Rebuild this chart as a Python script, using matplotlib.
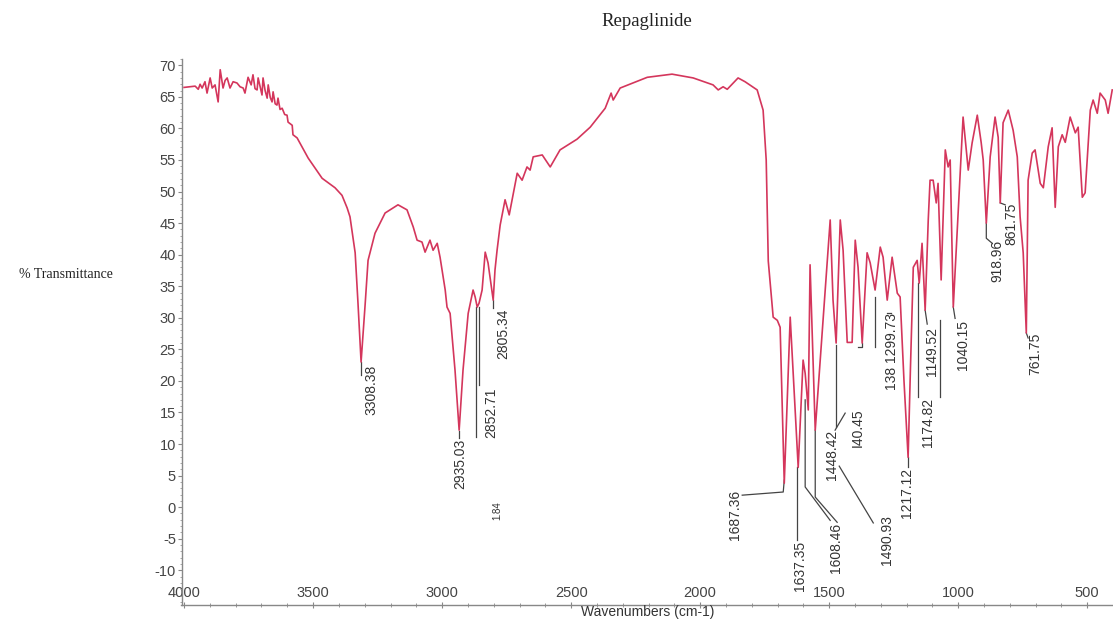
import matplotlib
matplotlib.use("Agg")
import matplotlib.pyplot as plt
from matplotlib.ticker import MultipleLocator

# ---------------- data ----------------
wavenumber = [
    4000, 3957, 3945, 3938, 3930, 3919, 3911, 3899, 3891, 3880, 3868, 3860, 3849,
    3841, 3833, 3822, 3810, 3795, 3783, 3771, 3764, 3752, 3740, 3733, 3725, 3717,
    3713, 3705, 3698, 3694, 3686, 3678, 3674, 3666, 3659, 3655, 3647, 3640, 3636,
    3628, 3620, 3610, 3601, 3597, 3581, 3578, 3562, 3519, 3465,
    3415, 3388, 3368, 3357, 3337, 3326, 3314, 3298, 3287, 3260, 3221, 3171, 3136,
    3112, 3097, 3078, 3066, 3047, 3035, 3019, 3008, 2988, 2981, 2969, 2950, 2934,
    2919, 2899, 2880, 2872, 2864, 2857, 2845, 2833, 2822, 2802, 2795, 2787, 2775,
    2756, 2740, 2709, 2690, 2671, 2659, 2647, 2612, 2581, 2543, 2477, 2426, 2368,
    2345, 2337, 2310, 2205, 2109, 2027, 1950, 1930, 1911, 1895, 1853, 1826, 1779,
    1756, 1744, 1736, 1717, 1701, 1690, 1674, 1651, 1620, 1601, 1593, 1581, 1574,
    1554, 1496, 1485, 1473, 1457, 1446, 1430, 1411, 1399, 1388, 1372, 1353, 1341,
    1322, 1302, 1291, 1275, 1256, 1236, 1225, 1210, 1194, 1185, 1174, 1159, 1151,
    1140, 1128, 1116, 1109, 1097, 1085, 1078, 1066, 1050, 1039, 1031, 1019, 1000,
    981, 961, 946, 926, 911, 903, 891, 876, 857, 845, 837, 826, 806, 787, 771,
    760, 748, 736, 729, 713, 702, 682, 670, 651, 636, 624, 612, 597, 585, 566,
    546, 535, 519, 508, 488, 477, 461, 450, 430, 419, 403,
]
transmittance = [
    66.5, 66.7, 66.2, 67.0, 66.4, 67.4, 65.6, 68.0, 66.4, 66.9, 64.2, 69.3, 66.4,
    67.6, 68.0, 66.4, 67.4, 67.2, 66.6, 66.4, 65.6, 68.1, 66.9, 68.5, 66.3, 66.1,
    68.0, 66.6, 65.3, 68.0, 66.0, 64.8, 66.9, 64.9, 64.2, 65.8, 63.9, 63.7, 64.8,
    63.0, 63.2, 62.2, 62.1, 61.0, 60.5, 59.0, 58.5, 55.3, 52.1,
    50.6, 49.4, 47.4, 46.0, 40.3, 32.3, 23.0, 32.3, 39.1, 43.4, 46.6, 47.9, 47.1,
    44.4, 42.3, 42.0, 40.4, 42.3, 40.7, 41.8, 39.6, 34.4, 31.7, 30.7, 21.7, 12.2,
    21.7, 30.7, 34.4, 33.3, 31.7, 32.3, 34.4, 40.4, 38.7, 32.8, 37.6, 40.7, 44.7,
    48.7, 46.3, 52.9, 51.8, 53.9, 53.4, 55.5, 55.8, 53.9, 56.6, 58.3, 60.2, 63.2,
    65.6, 64.5, 66.4, 68.1, 68.6, 68.0, 66.9, 66.1, 66.6, 66.2, 68.0, 67.4, 66.1,
    62.9, 55.0, 39.0, 30.1, 29.6, 28.5, 3.8, 30.1, 6.3, 23.3, 21.2, 15.4, 38.4,
    12.2, 45.5, 32.8, 26.0, 45.5, 40.7, 26.1, 26.1, 42.3, 38.0, 26.0, 40.3, 38.7,
    34.4, 41.2, 39.6, 32.8, 39.6, 33.9, 33.3, 20.0, 7.9, 22.0, 38.0, 39.1, 35.5,
    41.8, 31.2, 45.5, 51.8, 51.8, 48.2, 51.3, 36.0, 56.6, 53.9, 55.0, 31.7, 46.6,
    61.8, 53.4, 57.7, 62.1, 57.8, 55.0, 45.0, 55.5, 61.8, 58.6, 48.2, 60.9, 62.9, 59.7, 55.5,
    46.0, 40.3, 27.6, 51.8, 56.1, 56.6, 51.3, 50.6, 57.1, 60.1, 47.5, 57.1, 59.0, 57.8, 61.8,
    59.3, 60.2, 49.1, 49.8, 62.9, 64.5, 62.4, 65.6, 64.5, 62.4, 66.1,
]

x_ticks = [4000, 3500, 3000, 2500, 2000, 1500, 1000, 500]
y_ticks = list(range(-10, 71, 5))

# peak labels as printed on the chart (1381/1299.73 are printed run together)
peak_labels = ["3308.38", "2935.03", "2852.71", "2805.34", "1.84",
               "1687.36", "1637.35", "1608.46", "1490.93", "1448.42", "I40.45",
               "138 1299.73", "1217.12", "1174.82", "1149.52", "1040.15",
               "918.96", "861.75", "761.75"]

# ---------------- layout / style ----------------
label_pos = [(3275, 22.5), (2930, 10.9), (2810, 19.0), (2764, 31.5), (2787, 0.9),
             (1864, 2.7), (1612, -5.4), (1473, -2.5), (1275, -1.3), (1488, 12.2),
             (1391, 15.7), (1256, 30.7), (1198, 6.2), (1116, 17.3),
             (1101, 28.5), (981, 29.6), (849, 42.3), (795, 48.2), (702, 27.6)]
label_size = [10] * len(peak_labels)
label_size[4] = 7

leaders = [
    [(3314, 23.0), (3314, 20.9)],
    [(2934, 12.0), (2934, 11.0)],
    [(2868, 31.7), (2868, 11.1)],
    [(2857, 31.7), (2857, 19.3)],
    [(2802, 32.8), (2802, 31.5)],
    [(1674, 4.3), (1678, 2.4), (1837, 1.9)],
    [(1624, 6.3), (1624, -5.2)],
    [(1593, 17.0), (1593, 3.2), (1496, -2.1)],
    [(1554, 12.2), (1554, 1.6), (1469, -2.4)],
    [(1461, 6.5), (1329, -2.5)],
    [(1473, 25.7), (1473, 12.7)],
    [(1477, 12.2), (1438, 14.9)],
    [(1372, 26.0), (1372, 25.4), (1388, 25.4)],
    [(1322, 33.3), (1322, 25.4)],
    [(1275, 30.7), (1262, 30.7)],
    [(1194, 7.9), (1194, 6.4)],
    [(1155, 35.5), (1155, 17.4)],
    [(1070, 29.6), (1070, 17.4)],
    [(1128, 31.2), (1120, 29.0)],
    [(1019, 31.7), (1012, 29.9)],
    [(891, 45.0), (891, 42.6), (868, 41.8)],
    [(837, 48.2), (818, 47.9)],
    [(736, 27.6), (729, 26.8)],
]

line_color = "#d4365c"
grey = "#444444"

plt.rcParams["font.family"] = ["Liberation Sans", "DejaVu Sans"]
plt.rcParams["axes.unicode_minus"] = False

W, H = 1113, 622
fig = plt.figure(figsize=(W / 100, H / 100), dpi=100)
ax = fig.add_axes([181.5 / W, 17 / H, 1 - 181.5 / W, (605 - 59) / H])

ax.plot(wavenumber, transmittance, color=line_color, lw=1.2, zorder=3)

for pts in leaders:
    xs = [p[0] for p in pts]
    ys = [p[1] for p in pts]
    ax.plot(xs, ys, color=grey, lw=0.9, zorder=2)

for txt, (lx, ly), fs in zip(peak_labels, label_pos, label_size):
    ax.text(lx, ly, txt, rotation=90, ha="center", va="top",
            fontsize=fs, color="#333333", zorder=4)

ax.set_xlim(4010, 400)
ax.set_ylim(-15.5, 71)
ax.set_xticks(x_ticks)
ax.set_yticks(y_ticks)
ax.xaxis.set_minor_locator(MultipleLocator(100))
ax.yaxis.set_minor_locator(MultipleLocator(1))

for s in ("top", "right"):
    ax.spines[s].set_visible(False)
for s in ("left", "bottom"):
    ax.spines[s].set_color("#888888")
    ax.spines[s].set_linewidth(1.0)

ax.tick_params(axis="x", which="major", direction="inout", length=4, width=0.8,
               color="#888888", labelcolor=grey, labelsize=10.5, pad=-16)
ax.tick_params(axis="x", which="minor", direction="inout", length=3, width=0.6,
               color="#888888")
ax.tick_params(axis="y", which="major", direction="out", length=3, width=0.8,
               color="#888888", labelcolor=grey, labelsize=10.5, pad=1)
ax.tick_params(axis="y", which="minor", direction="out", length=1.5, width=0.6,
               color="#999999")

fig.text(647 / W, 1 - 22 / H, "Repaglinide", ha="center", va="center",
         fontsize=13.5, family="Liberation Serif", color="#222222")
fig.text(66 / W, 1 - 275 / H, "% Transmittance", ha="center", va="center",
         fontsize=10, family="Liberation Serif", color="#222222")
fig.text(648 / W, 1 - 612 / H, "Wavenumbers (cm-1)", ha="center", va="center",
         fontsize=10, color="#333333")

fig.savefig("out.png", dpi=100)
